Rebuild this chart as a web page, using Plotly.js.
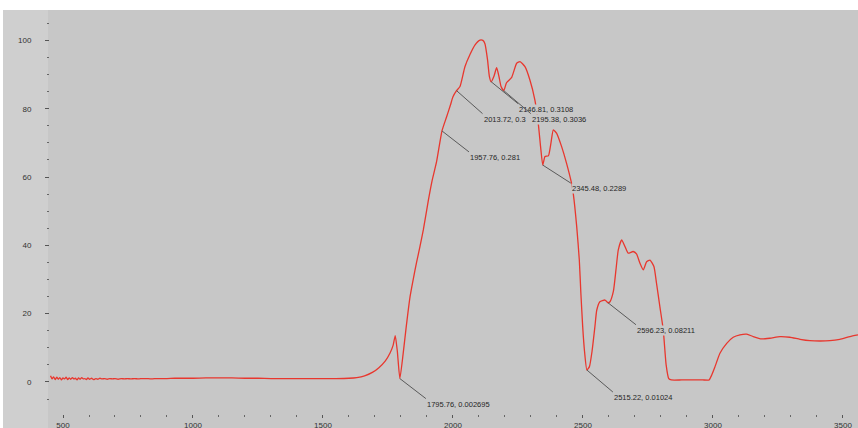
<!DOCTYPE html>
<html>
<head>
<meta charset="utf-8">
<script src="https://cdn.plot.ly/plotly-3.0.1.min.js"></script>
<style>html,body{margin:0;padding:0;background:#fff;}#chart{width:858px;height:428px;}</style>
</head>
<body>
<div id="chart"></div>
<script>
// Spectrum values
const waveX = [452,458,464,470,476,482,488,494,500,506,512,518,524,530,536,542,548,554,560,566,572,578,584,590,596,602,610,618,626,634,642,650,660,670,680,690,700,712,724,736,748,760,775,790,805,820,840,860,880,900,930,960,1000,1050,1100,1150,1200,1250,1300,1350,1400,1450,1500,1550,1600,1630,1660,1690,1715,1740,1758,1770,1778,1786,1795.76,1808,1820,1835,1847,1860,1873,1886,1905,1920,1937,1957.76,1975,1990,2000,2013.72,2027,2046,2065,2085,2104,2115,2123,2133,2140,2146.81,2158,2168,2177,2185,2195.38,2206,2226,2245,2258,2277,2296,2315,2328,2337,2345.48,2354,2367,2377,2386,2399,2418,2437,2456,2463,2476,2486,2492,2499,2506,2515.22,2525,2535,2546,2553,2565,2585,2596.23,2604,2617,2627,2636,2649,2662,2674,2693,2706,2719,2732,2745,2758,2773,2783,2796,2809,2820,2830,2840,2880,2920,2960,2985,2995,3008,3027,3053,3078,3104,3130,3155,3187,3219,3258,3296,3335,3373,3412,3450,3488,3527,3558];
const waveY = [1.8,0.9,1.5,0.7,1.4,0.8,1.3,0.6,1.2,0.9,1.4,0.7,1.2,0.8,1.3,0.9,1.1,0.6,1.2,0.8,1.3,0.9,1.0,0.7,1.2,0.8,1.1,0.7,1.0,0.8,1.1,0.9,1.0,0.8,1.0,0.9,1.0,0.8,1.0,0.9,1.0,0.9,1.0,0.9,1.0,1.0,0.9,1.0,1.0,1.0,1.1,1.1,1.1,1.2,1.2,1.2,1.1,1.1,1.0,1.0,1.0,1.0,1.0,1.0,1.1,1.3,1.8,2.8,4.2,6.2,8.5,10.8,13.6,9.0,1.0,8.0,16.0,25.0,30.0,35.0,39.6,44.5,53.0,59.0,64.5,73.5,77.5,81.0,83.5,85.3,86.5,92.3,95.8,98.7,100.1,100.0,99.0,94.3,89.5,87.9,89.6,92.0,89.4,86.5,85.3,87.6,89.2,93.3,93.8,92.3,88.4,82.6,75.8,68.9,63.5,66.0,66.2,70.0,73.8,72.8,68.9,64.0,58.2,55.0,45.5,35.7,26.0,16.2,9.0,3.5,4.5,9.0,16.2,21.0,23.5,24.0,23.2,23.5,26.5,32.8,38.7,41.6,39.6,37.7,38.2,37.5,34.8,32.8,35.2,35.7,33.8,28.9,22.0,15.2,5.0,1.0,0.6,0.6,0.6,0.6,0.6,2.0,4.5,8.4,11.3,13.1,13.8,14.0,13.3,12.6,12.8,13.3,13.1,12.5,12.1,12.0,12.1,12.5,13.3,13.8];

// Peak labels
const labelX = [1795.76,1957.76,2013.72,2146.81,2195.38,2345.48,2515.22,2596.23];
const labelY = [1.0,73.5,85.3,87.9,85.3,63.5,3.5,23.2];
const labelText = ["1795.76, 0.002695","1957.76, 0.281","2013.72, 0.3","2146.81, 0.3108","2195.38, 0.3036","2345.48, 0.2289","2515.22, 0.01024","2596.23, 0.08211"];
const labelDX = [26,27,26,27,27,28,26,28];
const labelDY = [20,21,23,22,23,18,22,22];

const plotBg = '#c7c7c7';
const annotations = labelX.map((x,i)=>({
  x:x, y:labelY[i], xref:'x', yref:'y', text:labelText[i],
  showarrow:true, arrowhead:0, arrowwidth:1, arrowcolor:'#5a5a5a',
  ax:labelDX[i], ay:labelDY[i], xanchor:'left', yanchor:'top',
  font:{family:'Liberation Sans, Arial, sans-serif', size:7.5, color:'#262626'},
  bgcolor:plotBg, borderpad:0, standoff:0, startstandoff:0
}));

const W = 858, H = 428, ML = 50, MT = 10, MB = 14;
const pw = W - ML, ph = H - MT - MB;

const trace = {
  x: waveX, y: waveY, type:'scatter', mode:'lines',
  line:{color:'#e8372e', width:1.3, shape:'spline', smoothing:0.5},
  hoverinfo:'skip'
};

const layout = {
  width:W, height:H,
  margin:{l:ML, r:0, t:MT, b:MB, pad:0},
  paper_bgcolor:plotBg,
  plot_bgcolor:plotBg,
  showlegend:false,
  font:{family:'Liberation Sans, Arial, sans-serif', size:8, color:'#333'},
  xaxis:{
    range:[450,3558], tick0:0, dtick:500, ticks:'outside', ticklen:3, tickwidth:1, tickcolor:'#555',
    minor:{dtick:100, ticks:'outside', ticklen:2, tickcolor:'#666'},
    showgrid:false, zeroline:false, showline:false,
    tickfont:{family:'Liberation Sans, Arial, sans-serif', size:8, color:'#333'}
  },
  yaxis:{
    range:[-9.37,108.9], tick0:0, dtick:20, ticks:'outside', ticklen:4, tickwidth:1, tickcolor:'#555',
    minor:{dtick:5, ticks:'outside', ticklen:2, tickcolor:'#666'},
    showgrid:false, zeroline:false, showline:false, ticklabelstandoff:12,
    tickfont:{family:'Liberation Sans, Arial, sans-serif', size:8, color:'#333'}
  },
  shapes:[
    {type:'rect', xref:'paper', yref:'paper', x0:(3-ML)/pw, x1:-2/pw, y0:-0.1, y1:1.1, fillcolor:'#cfcfcf', line:{width:0}, layer:'below'},
    {type:'rect', xref:'paper', yref:'paper', x0:-0.1, x1:1.05, y0:1, y1:1+ (MT+5)/ph, fillcolor:'#ffffff', line:{width:0}, layer:'below'},
    {type:'rect', xref:'paper', yref:'paper', x0:-0.1, x1:(3-ML)/pw, y0:-0.1, y1:1.1, fillcolor:'#ffffff', line:{width:0}, layer:'below'}
  ],
  annotations: annotations
};

Plotly.newPlot('chart', [trace], layout, {displayModeBar:false, staticPlot:true});
</script>
</body>
</html>
